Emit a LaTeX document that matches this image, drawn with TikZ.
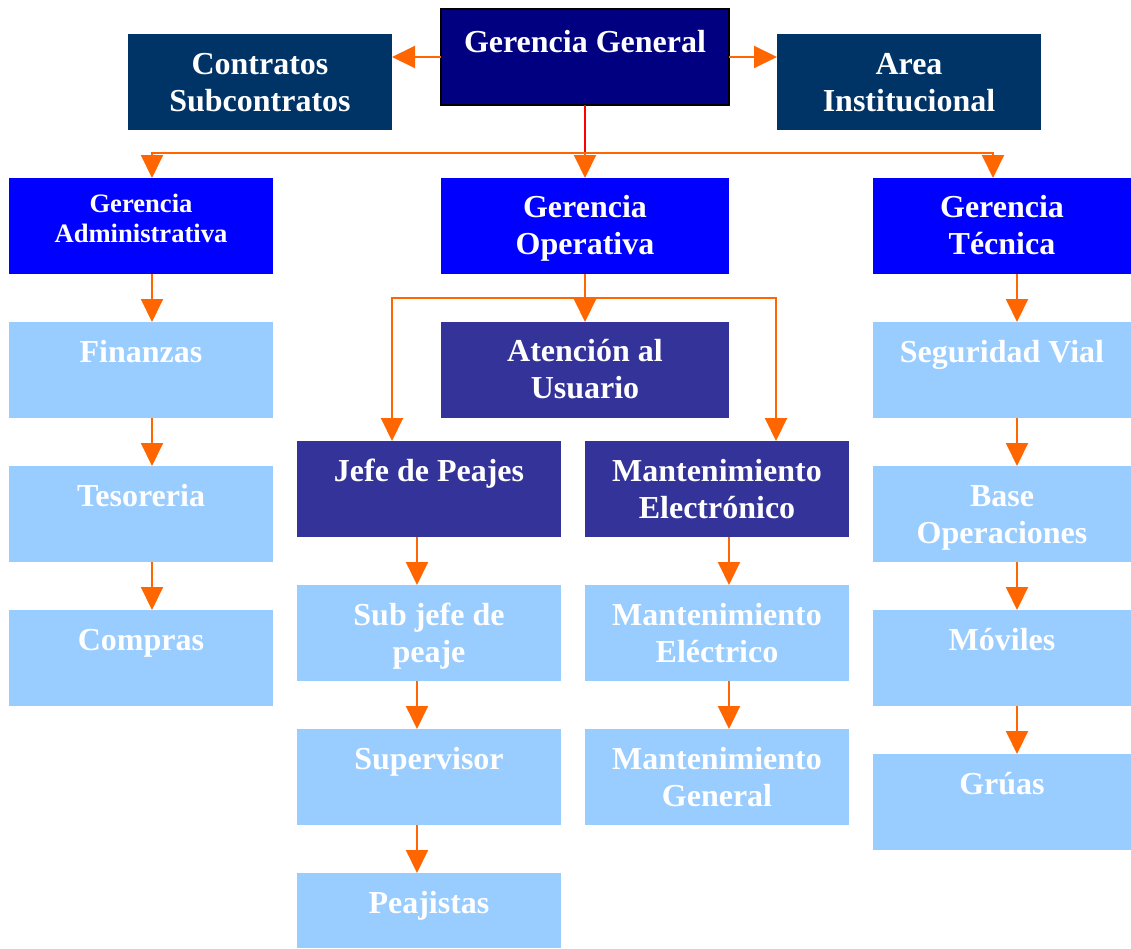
\documentclass[tikz,border=0pt]{standalone}
\usepackage{fontspec}
\setmainfont{Liberation Serif}
\usetikzlibrary{arrows.meta}
\definecolor{cnavy}{HTML}{000080}
\definecolor{cteal}{HTML}{003366}
\definecolor{cblue}{HTML}{0000FF}
\definecolor{cindigo}{HTML}{333399}
\definecolor{clight}{HTML}{99CCFF}
\definecolor{corange}{HTML}{FF6600}
\definecolor{cred}{HTML}{FF0000}
% #1 width, #2 height, #3 first baseline from top, #4 text
\newcommand\bxt[4]{\parbox[c][#2pt][t]{#1pt}{\centering\rule{0pt}{#3pt}#4}}
\tikzset{
  orgbox/.style={rectangle, inner sep=0pt, outer sep=0pt, text=white,
    font=\bfseries\fontsize{32}{37}\selectfont, anchor=north west},
  smallfont/.style={font=\bfseries\fontsize{26.6}{30.5}\selectfont},
  navybox/.style={orgbox, fill=cnavy, draw=black, line width=1.5pt},
  tealbox/.style={orgbox, fill=cteal},
  bluebox/.style={orgbox, fill=cblue},
  indigobox/.style={orgbox, fill=cindigo},
  lightbox/.style={orgbox, fill=clight},
  arr/.style={draw=corange, line width=2pt, -{Triangle[length=23pt,width=22pt]}},
  redline/.style={draw=cred, line width=2pt}
}
\begin{document}
\begin{tikzpicture}[x=1pt,y=-1pt]
\useasboundingbox (0,0) rectangle (1131,948);
% top row
\node[navybox] (gg) at (441,9) {\bxt{288}{96}{43}{Gerencia General}};
\node[tealbox] (cs) at (128,34) {\bxt{264}{96}{40}{Contratos\\Subcontratos}};
\node[tealbox] (ai) at (777,34) {\bxt{264}{96}{40}{Area\\Institucional}};
% second row
\node[bluebox, smallfont] (ga) at (9,178) {\bxt{264}{96}{34}{Gerencia\\Administrativa}};
\node[bluebox] (go) at (441,178) {\bxt{288}{96}{39}{Gerencia\\Operativa}};
\node[bluebox] (gt) at (873,178) {\bxt{258}{96}{39}{Gerencia\\Técnica}};
% left column
\node[lightbox] (fi) at (9,322) {\bxt{264}{96}{40}{Finanzas}};
\node[lightbox] (te) at (9,466) {\bxt{264}{96}{40}{Tesoreria}};
\node[lightbox] (co) at (9,610) {\bxt{264}{96}{40}{Compras}};
% operativa
\node[indigobox] (at) at (441,322) {\bxt{288}{96}{39}{Atención al\\Usuario}};
\node[indigobox] (jp) at (297,441) {\bxt{264}{96}{40}{Jefe de Peajes}};
\node[indigobox] (me) at (585,441) {\bxt{264}{96}{40}{Mantenimiento\\Electrónico}};
\node[lightbox] (sj) at (297,585) {\bxt{264}{96}{40}{Sub jefe de\\peaje}};
\node[lightbox] (su) at (297,729) {\bxt{264}{96}{40}{Supervisor}};
\node[lightbox] (pe) at (297,873) {\bxt{264}{75}{40}{Peajistas}};
\node[lightbox] (mel) at (585,585) {\bxt{264}{96}{40}{Mantenimiento\\Eléctrico}};
\node[lightbox] (mg) at (585,729) {\bxt{264}{96}{40}{Mantenimiento\\General}};
% tecnica
\node[lightbox] (sv) at (873,322) {\bxt{258}{96}{40}{Seguridad Vial}};
\node[lightbox] (bo) at (873,466) {\bxt{258}{96}{40}{Base\\Operaciones}};
\node[lightbox] (mo) at (873,610) {\bxt{258}{96}{40}{Móviles}};
\node[lightbox] (gr) at (873,754) {\bxt{258}{96}{40}{Grúas}};
% helper coordinates
\coordinate (xa) at (152,0);
\coordinate (xt) at (993,0);
\coordinate (xj) at (392,0);
\coordinate (xm) at (776,0);
\coordinate (xc2) at (417,0);
\coordinate (xc3) at (729,0);
\coordinate (xc4) at (1017,0);
\coordinate (bus) at (585,153);
\coordinate (ob) at (585,298);
% connectors
\draw[arr] (gg.west) -- (gg.west -| cs.east);
\draw[arr] (gg.east) -- (gg.east -| ai.west);
\draw[redline] (gg.south) -- (bus);
\draw[arr] (bus) -| (xa |- ga.north);
\draw[arr] (bus) -| (xt |- gt.north);
\draw[arr] (bus) -- (go.north);
\draw[arr] (go.south) -- (at.north);
\draw[arr] (go.south) -- (ob) -| (xj |- jp.north);
\draw[arr] (ob) -| (xm |- me.north);
% column arrows
\draw[arr] (xa |- ga.south) -- (xa |- fi.north);
\draw[arr] (xa |- fi.south) -- (xa |- te.north);
\draw[arr] (xa |- te.south) -- (xa |- co.north);
\draw[arr] (xc2 |- jp.south) -- (xc2 |- sj.north);
\draw[arr] (xc2 |- sj.south) -- (xc2 |- su.north);
\draw[arr] (xc2 |- su.south) -- (xc2 |- pe.north);
\draw[arr] (xc3 |- me.south) -- (xc3 |- mel.north);
\draw[arr] (xc3 |- mel.south) -- (xc3 |- mg.north);
\draw[arr] (xc4 |- gt.south) -- (xc4 |- sv.north);
\draw[arr] (xc4 |- sv.south) -- (xc4 |- bo.north);
\draw[arr] (xc4 |- bo.south) -- (xc4 |- mo.north);
\draw[arr] (xc4 |- mo.south) -- (xc4 |- gr.north);
\end{tikzpicture}
\end{document}
